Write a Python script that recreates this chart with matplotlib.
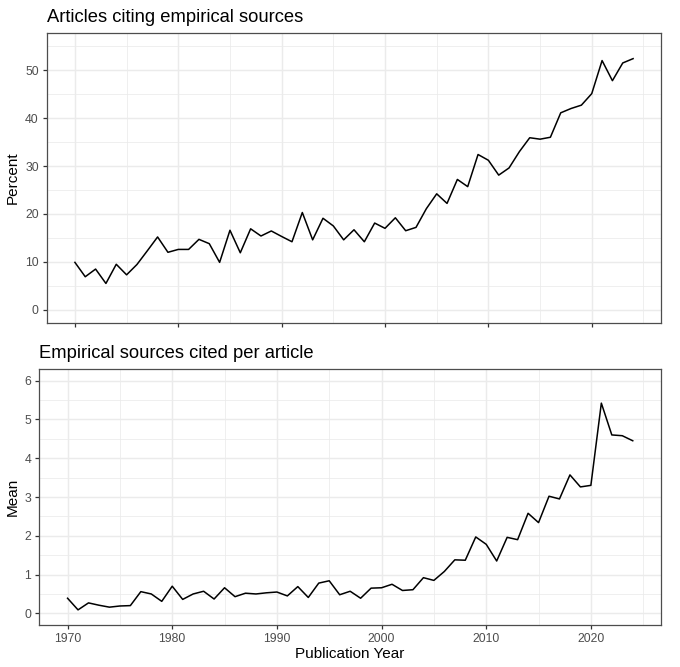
import numpy as np
import matplotlib
matplotlib.use("Agg")
import matplotlib.pyplot as plt
from matplotlib.ticker import MultipleLocator

years = np.arange(1970, 2025)
pct_citing = [9.9, 6.9, 8.5, 5.5, 9.5, 7.3, 9.45, 12.3, 15.2, 12.0,
              12.6, 12.6, 14.7, 13.8, 9.9, 16.6, 11.9, 16.9, 15.4, 16.45,
              15.3, 14.2, 20.3, 14.6, 19.1, 17.5, 14.6, 16.7, 14.2, 18.1,
              17.0, 19.2, 16.5, 17.2, 21.1, 24.2, 22.2, 27.2, 25.7, 32.4,
              31.2, 28.1, 29.6, 33.0, 35.9, 35.6, 36.0, 41.1, 42.0, 42.7,
              45.1, 52.0, 47.8, 51.5, 52.4]
mean_cited = [0.39, 0.09, 0.27, 0.21, 0.16, 0.19, 0.20, 0.56, 0.50, 0.31,
              0.70, 0.36, 0.50, 0.57, 0.37, 0.66, 0.43, 0.52, 0.50, 0.53,
              0.55, 0.45, 0.69, 0.41, 0.78, 0.84, 0.48, 0.57, 0.39, 0.65,
              0.66, 0.75, 0.59, 0.61, 0.92, 0.85, 1.08, 1.38, 1.37, 1.97,
              1.78, 1.35, 1.96, 1.90, 2.58, 2.34, 3.02, 2.95, 3.57, 3.26,
              3.30, 5.42, 4.60, 4.58, 4.45]
x_ticks = [1970, 1980, 1990, 2000, 2010, 2020]
y1_ticks = [0, 10, 20, 30, 40, 50]
y2_ticks = [0, 1, 2, 3, 4, 5, 6]

plt.rcParams['font.family'] = ['Liberation Sans', 'DejaVu Sans']

W, H = 680, 667
fig = plt.figure(figsize=(W / 100, H / 100), dpi=100)

def px_axes(l, t, r, b):
    return fig.add_axes([l / W, 1 - b / H, (r - l) / W, (b - t) / H])

ax1 = px_axes(47, 33, 661, 323)
ax2 = px_axes(39.3, 369, 661, 625)

def style(ax, yt, ylim, yminor, show_xlabels):
    ax.set_xlim(1967.3, 2026.7)
    ax.set_ylim(*ylim)
    ax.set_xticks(x_ticks)
    ax.set_yticks(yt)
    ax.xaxis.set_minor_locator(MultipleLocator(5))
    ax.yaxis.set_minor_locator(MultipleLocator(yminor))
    ax.grid(which='major', color='#EBEBEB', linewidth=1.07)
    ax.grid(which='minor', color='#EBEBEB', linewidth=0.55)
    ax.set_axisbelow(True)
    ax.tick_params(which='minor', length=0)
    ax.tick_params(which='major', length=3.0, width=0.9, color='#333333',
                   labelcolor='#4D4D4D', labelsize=8.8, pad=2.9)
    if not show_xlabels:
        ax.tick_params(axis='x', labelbottom=False)
    for s in ax.spines.values():
        s.set_color('#4D4D4D')
        s.set_linewidth(0.9)

ax1.plot(years, pct_citing, color='black', linewidth=1.1)
ax2.plot(years, mean_cited, color='black', linewidth=1.1)
style(ax1, y1_ticks, (-2.75, 57.75), 5, False)
style(ax2, y2_ticks, (-0.3, 6.3), 0.5, True)

ax1.set_title('Articles citing empirical sources', loc='left', fontsize=13.2, pad=8)
ax2.set_title('Empirical sources cited per article', loc='left', fontsize=13.2, pad=8)

fig.text(12.5 / W, 1 - 178 / H, 'Percent', rotation=90, ha='center', va='center', fontsize=11)
fig.text(12.5 / W, 1 - 497 / H, 'Mean', rotation=90, ha='center', va='center', fontsize=11)
fig.text(350 / W, 1 - 654 / H, 'Publication Year', ha='center', va='center', fontsize=11)

fig.savefig('out.png', dpi=100, facecolor='white')
